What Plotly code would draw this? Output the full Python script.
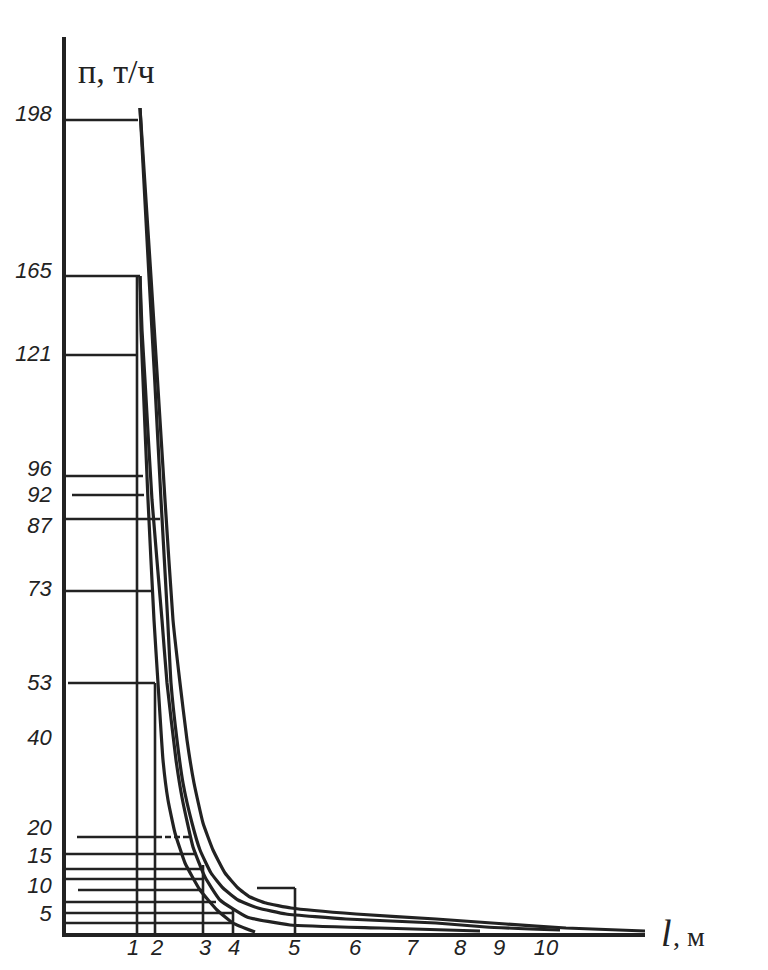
import plotly.graph_objects as go

# ---- axis ticks (positions are in the drawing's own scale units) ----
Y_TICK_LABELS = ["198", "165", "121", "96", "92", "87", "73", "53", "40", "20", "15", "10", "5"]
Y_TICK_POS = [820, 663, 580, 465, 439, 408, 345, 251, 196, 106, 78, 48, 20]
X_TICK_LABELS = ["1", "2", "3", "4", "5", "6", "7", "8", "9", "10"]
X_TICK_POS = [67, 91, 139, 168, 228, 289, 346, 394, 433, 480]

# ---- curves (l-position, P-position) ----
CURVE_A_X = [74, 75, 77, 82, 88, 92, 97, 102, 109, 119, 134, 151, 167, 189]
CURVE_A_Y = [657, 603, 553, 433, 313, 250, 173, 133, 100, 70, 43, 23, 10, 1]

CURVE_B_X = [74, 76, 79, 86, 96, 101, 110, 116.5, 127, 139, 154, 181, 224, 314, 414]
CURVE_B_Y = [657, 603, 553, 433, 313, 250, 173, 133, 86, 56, 33, 16, 8, 5, 2]

CURVE_C_X = [74, 83, 88.7, 95, 101.7, 105, 111, 117, 126, 134, 145, 157, 172, 192, 220, 280, 370, 420, 494]
CURVE_C_Y = [825, 656, 553, 433, 313, 250, 193, 150, 110, 83, 60, 45, 33, 25, 19, 14, 10, 6, 3]

CURVE_D_X = [74, 85, 91.5, 99, 107, 114, 121, 128, 137, 147, 159, 172, 184, 200, 225, 290, 370, 440, 500, 579]
CURVE_D_Y = [825, 656, 553, 433, 313, 250, 193, 150, 110, 83, 60, 45, 36, 30, 25, 19, 14, 9, 5, 2]

# ---- horizontal reference lines: level, start, end ----
H_LEVELS = [813, 657, 578, 457, 438, 414, 342, 250, 79, 64, 54, 43, 31, 20, 10]
H_START = [0, 0, 0, 0, 6, 0, 0, 2, 0, 0, 0, 12, 0, 0, 0]
H_END = [72, 74, 72, 77, 78, 94, 86, 89, 131, 137, 137, 137, 150, 167, 167]
# dashed-ish line near 20
H20_LEVEL = 96
H20_SOLID = [11, 88]
H20_DASH = [90, 124]

# ---- vertical reference lines: position, top ----
V_POS = [71, 89, 137, 167, 229]
V_TOP = [657, 250, 68, 25, 45]
BRACKET_X = [191, 229]
BRACKET_Y = 45

INK = "#222222"

fig = go.Figure()

for xs, ys in [(CURVE_A_X, CURVE_A_Y), (CURVE_B_X, CURVE_B_Y),
               (CURVE_C_X, CURVE_C_Y), (CURVE_D_X, CURVE_D_Y)]:
    fig.add_trace(go.Scatter(x=xs, y=ys, mode="lines",
                             line=dict(color=INK, width=3.2, shape="spline", smoothing=0.4),
                             hoverinfo="skip", showlegend=False))

for lvl, x0, x1 in zip(H_LEVELS, H_START, H_END):
    fig.add_trace(go.Scatter(x=[x0, x1], y=[lvl, lvl], mode="lines",
                             line=dict(color=INK, width=2.6),
                             hoverinfo="skip", showlegend=False))

fig.add_trace(go.Scatter(x=H20_SOLID, y=[H20_LEVEL, H20_LEVEL], mode="lines",
                         line=dict(color=INK, width=2.6), hoverinfo="skip", showlegend=False))
fig.add_trace(go.Scatter(x=H20_DASH, y=[H20_LEVEL, H20_LEVEL], mode="lines",
                         line=dict(color=INK, width=2.6, dash="6px,3px"),
                         hoverinfo="skip", showlegend=False))

for xp, top in zip(V_POS, V_TOP):
    fig.add_trace(go.Scatter(x=[xp, xp], y=[0, top], mode="lines",
                             line=dict(color=INK, width=2.6),
                             hoverinfo="skip", showlegend=False))

fig.add_trace(go.Scatter(x=BRACKET_X, y=[BRACKET_Y, BRACKET_Y], mode="lines",
                         line=dict(color=INK, width=2.6), hoverinfo="skip", showlegend=False))

tickfont = dict(family="Liberation Sans", size=22, color=INK, style="italic")

# page body has an 8px default margin: figure is sized to fit inside the window
fig.update_layout(
    width=752, height=954,
    margin=dict(l=58, r=115, t=29, b=29),
    paper_bgcolor="white", plot_bgcolor="white",
    showlegend=False,
    xaxis=dict(range=[0, 579], showgrid=False, zeroline=False, automargin=False,
               showline=True, linewidth=3.5, linecolor=INK,
               tickmode="array", tickvals=X_TICK_POS, ticktext=X_TICK_LABELS,
               ticks="", ticklabelstandoff=-8,
               tickfont=tickfont, fixedrange=True),
    yaxis=dict(range=[0, 896], showgrid=False, zeroline=False, automargin=False,
               showline=True, linewidth=3.5, linecolor=INK,
               tickmode="array", tickvals=Y_TICK_POS, ticktext=Y_TICK_LABELS,
               ticks="outside", ticklen=6, tickcolor="rgba(0,0,0,0)",
               tickfont=tickfont, fixedrange=True),
    annotations=[
        dict(text="п, т/ч", xref="paper", yref="paper", x=0.017, y=0.962,
             xanchor="left", yanchor="middle", showarrow=False,
             font=dict(family="Liberation Serif", size=34, color=INK)),
        dict(text="<i>l</i>", xref="paper", yref="paper", x=1.025, y=0.0,
             xanchor="left", yanchor="middle", showarrow=False,
             font=dict(family="Liberation Serif", size=38, color=INK)),
        dict(text=", м", xref="paper", yref="paper", x=1.045, y=-0.004,
             xanchor="left", yanchor="middle", showarrow=False,
             font=dict(family="Liberation Serif", size=28, color=INK)),
    ],
)

fig.write_html("out.html")
